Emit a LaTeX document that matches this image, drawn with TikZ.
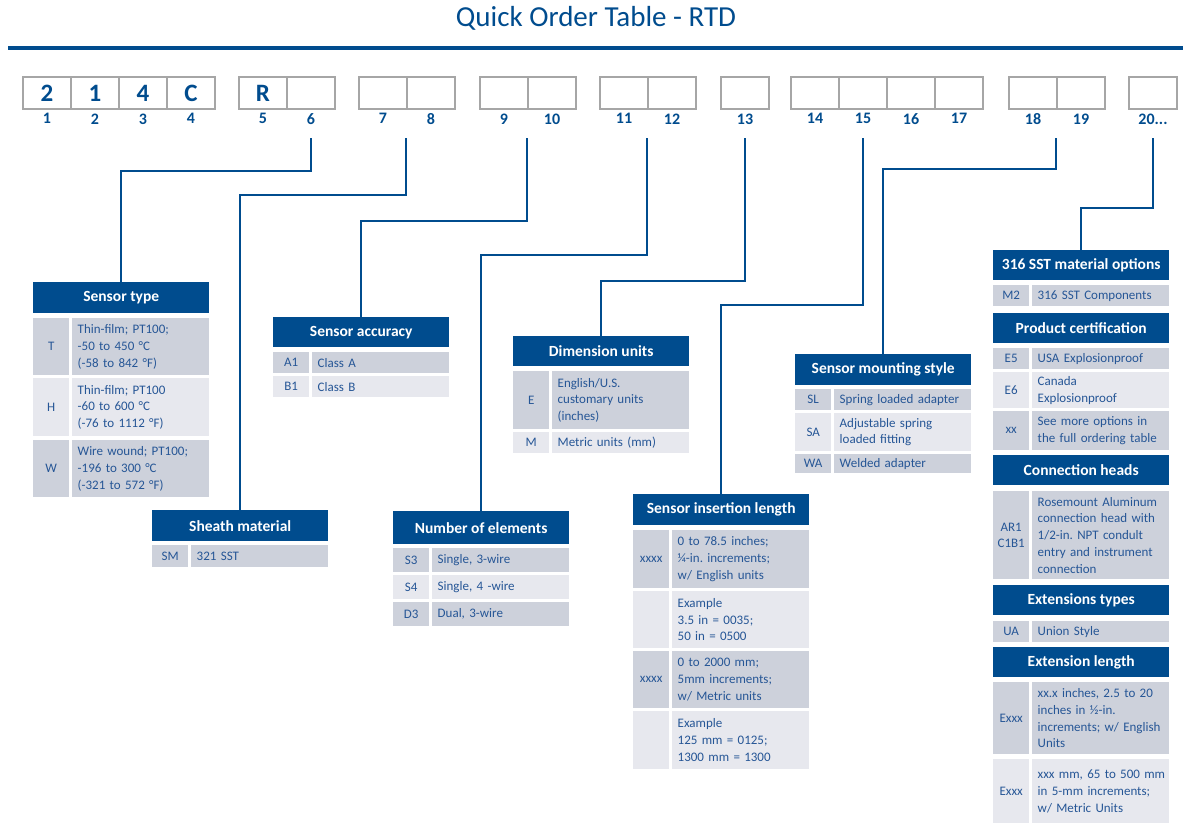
\documentclass[tikz,border=0pt]{standalone}
\usepackage{fontspec}
\setmainfont{Carlito}
\usepackage{tikz}

\definecolor{hdrblue}{RGB}{0,76,142}
\definecolor{txtblue}{RGB}{38,86,150}
\definecolor{celldark}{RGB}{205,209,219}
\definecolor{celllight}{RGB}{231,232,238}
\definecolor{boxgray}{RGB}{166,166,166}

\newcommand{\cellfont}{\frenchspacing\fontsize{13}{16.7}\selectfont}
\newcommand{\hdrfont}{\bfseries\fontsize{15.5}{18}\selectfont}

\tikzset{
hdr/.style={anchor=north west, fill=hdrblue, text=white, font=\hdrfont, minimum width=176pt, minimum height=30pt, inner sep=0pt},
keycell/.style={anchor=north west, text=txtblue, font=\cellfont, align=center, minimum width=36pt, inner sep=0pt},
valcell/.style={anchor=north west, text=txtblue, font=\cellfont, align=left, text width=126pt, inner xsep=5.5pt, inner ysep=0pt},
dark/.style={fill=celldark},
light/.style={fill=celllight},
codebox/.style={draw=boxgray, line width=2pt, minimum width=48pt, minimum height=32pt, inner sep=0pt, text=hdrblue, font=\bfseries\fontsize{25}{25}\selectfont},
numlab/.style={text=hdrblue, font=\bfseries\fontsize{16}{16}\selectfont},
link/.style={draw=hdrblue, line width=2.5pt}
}

\begin{document}
\frenchspacing
\begin{tikzpicture}[x=1pt, y=-1pt]

    \useasboundingbox (0,0) rectangle (1183,823);
    \fill[white] (0,0) rectangle (1183,823);

    % title and rule
    \node[font=\fontsize{29}{32}\selectfont, text=hdrblue] (title) at (596,18) {Quick Order Table - RTD};
    \draw[hdrblue, line width=4pt] (8,47.5) -- (1183,47.5);

    % code boxes
    \node[codebox, label={[numlab]below:1}] (b1) at (47,93) {2};
    \node[codebox, label={[numlab]below:2}] (b2) at (95,93) {1};
    \node[codebox, label={[numlab]below:3}] (b3) at (143,93) {4};
    \node[codebox, label={[numlab]below:4}] (b4) at (191,93) {C};
    \node[codebox, label={[numlab]below:5}] (b5) at (263,93) {R};
    \node[codebox, label={[numlab]below:6}] (b6) at (311,93) {};
    \node[codebox, label={[numlab]below:7}] (b7) at (383,93) {};
    \node[codebox, label={[numlab]below:8}] (b8) at (431,93) {};
    \node[codebox, label={[numlab]below:9}] (b9) at (504,93) {};
    \node[codebox, label={[numlab]below:10}] (b10) at (552,93) {};
    \node[codebox, label={[numlab]below:11}] (b11) at (624,93) {};
    \node[codebox, label={[numlab]below:12}] (b12) at (672,93) {};
    \node[codebox, label={[numlab]below:13}] (b13) at (745,93) {};
    \node[codebox, label={[numlab]below:14}] (b14) at (815,93) {};
    \node[codebox, label={[numlab]below:15}] (b15) at (863,93) {};
    \node[codebox, label={[numlab]below:16}] (b16) at (911,93) {};
    \node[codebox, label={[numlab]below:17}] (b17) at (959,93) {};
    \node[codebox, label={[numlab]below:18}] (b18) at (1033,93) {};
    \node[codebox, label={[numlab]below:19}] (b19) at (1081,93) {};
    \node[codebox, label={[numlab]below:20...}] (b20) at (1153,93) {};

    % sensor type
    \node[hdr, minimum height=31pt] (st) at (33,282) {Sensor type};
    \node[keycell, dark, minimum height=57pt] (stT) at (33,318) {T};
    \node[valcell, dark, minimum height=57pt] (stTv) at (72,318) {Thin-film; PT100;\\-50 to 450 °C\\(-58 to 842 °F)};
    \node[keycell, light, minimum height=58pt] (stH) at (33,378) {H};
    \node[valcell, light, minimum height=58pt] (stHv) at (72,378) {Thin-film; PT100\\-60 to 600 °C\\(-76 to 1112 °F)};
    \node[keycell, dark, minimum height=57pt] (stW) at (33,440) {W};
    \node[valcell, dark, minimum height=57pt] (stWv) at (72,440) {Wire wound; PT100;\\-196 to 300 °C\\(-321 to 572 °F)};

    % sheath material
    \node[hdr, minimum height=31pt] (sm) at (152,510) {Sheath material};
    \node[keycell, dark, minimum height=22pt] (smSM) at (152,545) {SM};
    \node[valcell, dark, minimum height=22pt] (smSMv) at (191,545) {321 SST};

    % sensor accuracy
    \node[hdr] (sa) at (273,317) {Sensor accuracy};
    \node[keycell, dark, minimum height=21pt] (saA) at (273,352) {A1};
    \node[valcell, dark, minimum height=21pt] (saAv) at (312,352) {Class A};
    \node[keycell, light, minimum height=21pt] (saB) at (273,376) {B1};
    \node[valcell, light, minimum height=21pt] (saBv) at (312,376) {Class B};

    % number of elements
    \node[hdr, minimum height=33pt] (ne) at (393,511) {Number of elements};
    \node[keycell, dark, minimum height=24pt] (neS3) at (393,548) {S3};
    \node[valcell, dark, minimum height=24pt] (neS3v) at (432,548) {Single, 3-wire};
    \node[keycell, light, minimum height=24pt] (neS4) at (393,575) {S4};
    \node[valcell, light, minimum height=24pt] (neS4v) at (432,575) {Single, 4 -wire};
    \node[keycell, dark, minimum height=24pt] (neD3) at (393,602) {D3};
    \node[valcell, dark, minimum height=24pt] (neD3v) at (432,602) {Dual, 3-wire};

    % dimension units
    \node[hdr] (du) at (513,336) {Dimension units};
    \node[keycell, dark, minimum height=58pt] (duE) at (513,371) {E};
    \node[valcell, dark, minimum height=58pt] (duEv) at (552,371) {English/U.S.\\customary units\\(inches)};
    \node[keycell, light, minimum height=21pt] (duM) at (513,432) {M};
    \node[valcell, light, minimum height=21pt] (duMv) at (552,432) {Metric units (mm)};

    % sensor insertion length
    \node[hdr, minimum height=31pt] (il) at (633,494) {Sensor insertion length};
    \node[keycell, dark, minimum height=58pt] (il1) at (633,530) {xxxx};
    \node[valcell, dark, minimum height=58pt] (il1v) at (672,530) {0 to 78.5 inches;\\¼-in. increments;\\w/ English units};
    \node[keycell, light, minimum height=57pt] (il2) at (633,591) {};
    \node[valcell, light, minimum height=57pt] (il2v) at (672,591) {Example\\3.5 in = 0035;\\50 in = 0500};
    \node[keycell, dark, minimum height=57pt] (il3) at (633,651) {xxxx};
    \node[valcell, dark, minimum height=57pt] (il3v) at (672,651) {0 to 2000 mm;\\5mm increments;\\w/ Metric units};
    \node[keycell, light, minimum height=58pt] (il4) at (633,711) {};
    \node[valcell, light, minimum height=58pt] (il4v) at (672,711) {Example\\125 mm = 0125;\\1300 mm = 1300};

    % sensor mounting style
    \node[hdr, minimum height=31pt] (ms) at (795,354) {Sensor mounting style};
    \node[keycell, dark, minimum height=21pt] (msSL) at (795,389) {SL};
    \node[valcell, dark, minimum height=21pt] (msSLv) at (834,389) {Spring loaded adapter};
    \node[keycell, light, minimum height=38pt] (msSA) at (795,413) {SA};
    \node[valcell, light, minimum height=38pt] (msSAv) at (834,413) {Adjustable spring\\loaded fitting};
    \node[keycell, dark, minimum height=19pt] (msWA) at (795,454) {WA};
    \node[valcell, dark, minimum height=19pt] (msWAv) at (834,454) {Welded adapter};

    % options column
    \node[hdr] (mo) at (993,250) {316 SST material options};
    \node[keycell, dark, minimum height=21pt] (moM2) at (993,285) {M2};
    \node[valcell, dark, minimum height=21pt] (moM2v) at (1032,285) {316 SST Components};
    \node[hdr] (pc) at (993,313) {Product certification};
    \node[keycell, dark, minimum height=21pt] (pcE5) at (993,348) {E5};
    \node[valcell, dark, minimum height=21pt] (pcE5v) at (1032,348) {USA Explosionproof};
    \node[keycell, light, minimum height=36pt] (pcE6) at (993,372) {E6};
    \node[valcell, light, minimum height=36pt] (pcE6v) at (1032,372) {Canada\\Explosionproof};
    \node[keycell, dark, minimum height=39pt] (pcxx) at (993,411) {xx};
    \node[valcell, dark, minimum height=39pt] (pcxxv) at (1032,411) {See more options in\\the full ordering table};
    \node[hdr] (ch) at (993,455) {Connection heads};
    \node[keycell, dark, minimum height=88pt] (chAR) at (993,491) {AR1\\C1B1};
    \node[valcell, dark, minimum height=88pt] (chARv) at (1032,491) {Rosemount Aluminum\\connection head with\\1/2-in. NPT condult\\entry and instrument\\connection};
    \node[hdr] (et) at (993,585) {Extensions types};
    \node[keycell, dark, minimum height=21pt] (etUA) at (993,621) {UA};
    \node[valcell, dark, minimum height=21pt] (etUAv) at (1032,621) {Union Style};
    \node[hdr] (el) at (993,647) {Extension length};
    \node[keycell, dark, minimum height=72pt] (el1) at (993,682) {Exxx};
    \node[valcell, dark, minimum height=72pt] (el1v) at (1032,682) {\mbox{xx.x inches, 2.5 to 20}\\inches in ½-in.\\\mbox{increments; w/ English}\\Units};
    \node[keycell, light, minimum height=64pt] (el2) at (993,759) {Exxx};
    \node[valcell, light, minimum height=64pt] (el2v) at (1032,759) {\mbox{xxx mm, 65 to 500 mm}\\in 5-mm increments;\\w/ Metric Units};

    % connectors
    \draw[link] (b6.south) ++(0,28) -- ++(0,33) -| (st.north);
    \draw[link] (b8.south west) ++(0,28) -- ++(0,57) -| (sm.north);
    \draw[link] (b10.south west) ++(0,28) -- ++(0,83) -| (sa.north);
    \draw[link] (b12.south west) ++(0,28) -- ++(0,117) -| (ne.north);
    \draw[link] (b13.south) ++(0,28) -- ++(0,143) -| (du.north);
    \draw[link] (b15.south) ++(0,28) -- ++(0,167) -| (il.north);
    \draw[link] (b19.south west) ++(0,28) -- ++(0,31) -| (ms.north);
    \draw[link] (b20.south) ++(0,28) -- ++(0,70) -| (mo.north);

\end{tikzpicture}
\end{document}
